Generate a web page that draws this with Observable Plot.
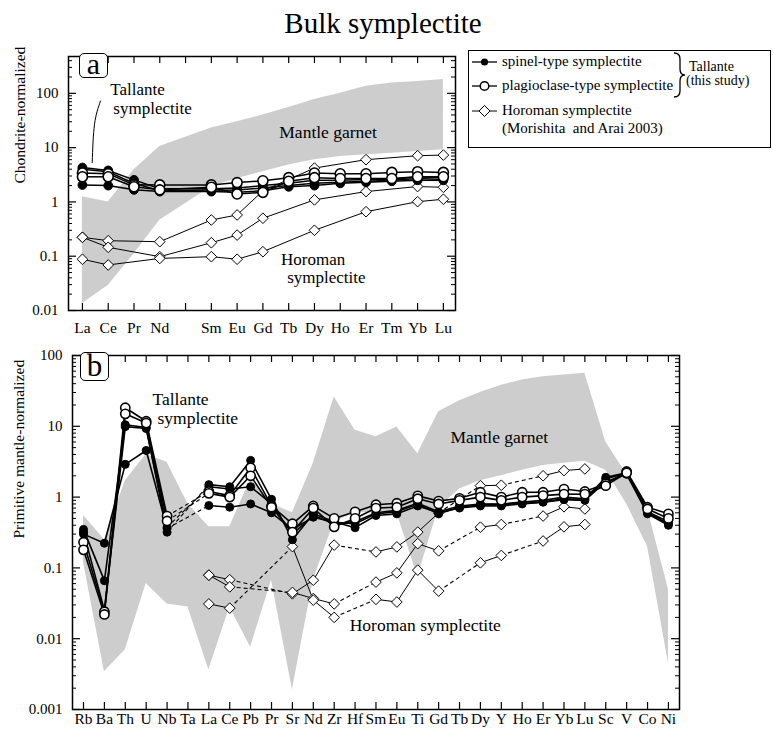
<!DOCTYPE html>
<html><head><meta charset="utf-8">
<script src="https://cdn.jsdelivr.net/npm/d3@7"></script>
<script src="https://cdn.jsdelivr.net/npm/@observablehq/plot@0.6"></script>
<style>
body{margin:0;background:#fff;}
#wrap{position:relative;width:773px;height:737px;overflow:hidden;font-family:"Liberation Serif","DejaVu Serif",serif;color:#000;background:#fff;}
.abs{position:absolute;}
.lbox{position:absolute;border:1.5px solid #000;border-radius:5px;box-sizing:border-box;text-align:center;background:#fff;}
.leg{position:absolute;font-size:15px;line-height:15px;white-space:nowrap;}
</style></head><body><div id="wrap"></div>
<script>
const FONT = '"Liberation Serif", "DejaVu Serif", serif';

// ---------- DATA ----------
const reeLabels = ["La","Ce","Pr","Nd","","Sm","Eu","Gd","Tb","Dy","Ho","Er","Tm","Yb","Lu"];
const reeTicks = [0.01, 0.1, 1, 10, 100];
// Tallante spinel-type (filled), chondrite-normalized
const reeSpinel1 = [4.3, 3.8, 2.55, 1.75, null, 1.75, 1.8, 2.0, 2.2, 2.5, 2.5, 2.6, 2.6, 2.9, 2.8];
const reeSpinel2 = [4.0, 3.6, 2.2, 1.6, null, 1.65, 1.65, 1.8, 2.0, 2.2, 2.3, 2.4, 2.5, 2.7, 2.6];
const reeSpinel3 = [2.05, 2.0, 1.67, 1.55, null, 1.55, 1.5, 1.6, 1.9, 2.0, 2.2, 2.3, 2.4, 2.5, 2.5];
// Tallante plagioclase-type (open)
const reePlag1 = [3.4, 3.3, 2.06, 2.06, null, 2.06, 2.27, 2.45, 2.8, 3.4, 3.3, 3.3, 3.5, 3.6, 3.5];
const reePlag2 = [2.9, 2.9, 1.9, 1.67, null, 1.86, 1.4, 1.5, 2.4, 2.8, 2.7, 2.7, 2.7, 2.9, 2.9];
// Horoman symplectite (diamonds)
const reeHoro1 = [0.223, 0.193, null, 0.185, null, 0.465, 0.575, 1.6, null, 4.2, null, 6.0, null, 7.1, 7.3];
const reeHoro2 = [0.223, 0.146, null, 0.098, null, 0.177, 0.245, 0.5, null, 1.09, null, 1.55, null, 1.92, 1.86];
const reeHoro3 = [0.088, 0.069, null, 0.091, null, 0.098, 0.088, 0.121, null, 0.30, null, 0.66, null, 1.01, 1.12];
// Mantle garnet field
const reeGarnetHigh = [1.25, 1.0, 3.9, 10.5, null, 23, 30, 40, 55, 77, 100, 135, 155, 165, 180];
const reeGarnetLow = [0.0135, 0.029, 0.11, 0.46, null, 1.9, 2.7, 3.6, 4.8, 6.0, 6.9, 7.4, 7.9, 8.5, 9.1];

const spiderLabels = ["Rb","Ba","Th","U","Nb","Ta","La","Ce","Pb","Pr","Sr","Nd","Zr","Hf","Sm","Eu","Ti","Gd","Tb","Dy","Y","Ho","Er","Yb","Lu","Sc","V","Co","Ni"];
const spiderTicks = [0.001, 0.01, 0.1, 1, 10, 100];
const pmSpinel1 = [0.35, 0.066, 10.5, 9.6, 0.32, null, 1.5, 1.4, 3.3, 0.93, 0.25, 0.58, 0.45, 0.37, 0.55, 0.58, 0.75, 0.6, 0.7, 0.75, 0.75, 0.8, 0.85, 0.95, 0.92, 1.9, 2.2, 0.6, 0.42];
const pmSpinel2 = [0.32, 0.025, 9.9, 9.3, 0.375, null, 1.4, 1.3, 1.4, 0.8, 0.3, 0.55, 0.42, 0.45, 0.6, 0.65, 0.82, 0.62, 0.75, 0.8, 0.8, 0.85, 0.9, 1.0, 0.95, 1.8, 2.2, 0.62, 0.45];
const pmSpinel3 = [0.3, 0.223, 2.9, 4.55, 0.36, null, 0.76, 0.72, 0.8, 0.6, 0.35, 0.52, 0.44, 0.42, 0.58, 0.62, 0.8, 0.58, 0.72, 0.78, 0.78, 0.82, 0.85, 0.92, 0.9, 1.65, 2.1, 0.58, 0.4];
const pmPlag1 = [0.23, 0.024, 18.3, 11.8, 0.54, null, 1.2, 1.05, 2.6, 0.75, 0.42, 0.75, 0.5, 0.62, 0.78, 0.82, 1.04, 0.88, 0.96, 1.17, 1.0, 1.17, 1.17, 1.3, 1.2, 1.54, 2.3, 0.72, 0.58];
const pmPlag2 = [0.18, 0.022, 15, 11.1, 0.46, null, 1.13, 1.0, 2.0, 0.72, 0.32, 0.7, 0.38, 0.5, 0.7, 0.72, 0.95, 0.8, 0.9, 1.0, 0.9, 1.0, 1.05, 1.1, 1.1, 1.45, 2.2, 0.68, 0.5];
const pmHoro1 = [null, null, null, null, null, null, 0.079, 0.068, null, null, 0.043, 0.067, 0.21, null, 0.168, 0.198, 0.32, 0.6, null, 1.45, 1.47, null, 2.0, 2.37, 2.5, null, null, null, null];
const pmHoro2 = [null, null, null, null, null, null, 0.079, 0.054, null, null, 0.045, 0.037, 0.031, null, 0.063, 0.085, 0.22, 0.174, null, 0.376, 0.41, null, 0.54, 0.73, 0.68, null, null, null, null];
const pmHoro3 = [null, null, null, null, null, null, 0.031, 0.027, null, null, 0.2, 0.035, 0.02, null, 0.036, 0.033, 0.093, 0.047, null, 0.118, 0.15, null, 0.24, 0.38, 0.41, null, null, null, null];
const pmGarnetHigh = [0.55, 0.25, 1.7, 4.0, 3.1, 0.8, 0.38, 0.38, 1.8, 0.8, 0.6, 3.0, 26, 8.8, 7.1, 9.8, 4.1, 16, 23, 30, 38, 45, 50, 53, 56, 6, 2.1, 0.68, 0.05];
const pmGarnetLow = [0.12, 0.0034, 0.007, 0.06, 0.031, 0.028, 0.0036, 0.028, 0.0076, 0.067, 0.0019, 0.067, 0.45, 0.6, 0.6, 0.6, 0.075, 0.7, 1.3, 1.7, 2.0, 2.4, 2.8, 3.0, 3.2, 2.4, 0.8, 0.2, 0.0045];

// ---------- HELPERS ----------
function pts(vals) { return vals.map((v, i) => ({x: i, y: v})).filter(d => d.y != null); }
function segs(vals, dashGaps) {
  const out = []; let prev = -1;
  vals.forEach((v, i) => {
    if (v == null) return;
    if (prev >= 0) out.push({x1: prev, y1: vals[prev], x2: i, y2: v, dashed: dashGaps && i - prev > 1});
    prev = i;
  });
  return out;
}
function band(lo, hi) { return lo.map((l, i) => ({x: i, lo: l, hi: hi[i]})).filter(d => d.lo != null && d.hi != null); }

function panel(o) {
  const [mt, mr, mb, ml] = o.margins;
  const fw = o.width - ml - mr, fh = o.height - mt - mb;
  const idx = o.labels.map((_, i) => i);
  const minors = o.yTicks.flatMap(m => [2,3,4,5,6,7,8,9].map(k => m * k)).filter(v => v < o.yDomain[1]);
  const hSegs = o.horo.flatMap(v => segs(v, o.dashGaps));
  const tSegs = [...o.spinel, ...o.plag].flatMap(v => segs(v, o.dashGaps));
  const L = {x1: "x1", y1: "y1", x2: "x2", y2: "y2", stroke: "#000"};
  return Plot.plot({
    width: o.width, height: o.height,
    marginTop: mt, marginRight: mr, marginBottom: mb, marginLeft: ml,
    style: {fontFamily: FONT, fontSize: "15px", background: "transparent", overflow: "visible"},
    x: {domain: o.xDomain},
    y: {type: "log", domain: o.yDomain},
    marks: [
      Plot.areaY(band(o.low, o.high), {x: "x", y1: "lo", y2: "hi", fill: "#cdcdcd"}),
      Plot.link(hSegs.filter(d => !d.dashed), {...L, strokeWidth: 1}),
      Plot.link(hSegs.filter(d => d.dashed), {...L, strokeWidth: 1.1, strokeDasharray: "4,3"}),
      Plot.link(tSegs.filter(d => !d.dashed), {...L, strokeWidth: o.talWidth}),
      Plot.link(tSegs.filter(d => d.dashed), {...L, strokeWidth: 1.1, strokeDasharray: "4,3"}),
      Plot.dot(o.horo.flatMap(pts), {x: "x", y: "y", symbol: "diamond2", r: 4.8, fill: "#fff", stroke: "#000", strokeWidth: 1}),
      Plot.dot(o.spinel.flatMap(pts), {x: "x", y: "y", r: o.r - 0.6, fill: "#000", stroke: "#000", strokeWidth: 1}),
      Plot.dot(o.plag.flatMap(pts), {x: "x", y: "y", r: o.r, fill: "#fff", stroke: "#000", strokeWidth: 1.6}),
      Plot.frame({stroke: "#000", strokeWidth: 1.5}),
      Plot.tickX(idx, {x: d => d, stroke: "#000", strokeWidth: 1.2, insetTop: fh - 7}),
      Plot.tickX(idx, {x: d => d, stroke: "#000", strokeWidth: 1.2, insetBottom: fh - 7}),
      Plot.tickY(o.yTicks, {y: d => d, stroke: "#000", strokeWidth: 1.2, insetRight: fw - 8}),
      Plot.tickY(o.yTicks, {y: d => d, stroke: "#000", strokeWidth: 1.2, insetLeft: fw - 8}),
      Plot.tickY(minors, {y: d => d, stroke: "#000", strokeWidth: 1, insetRight: fw - 4}),
      Plot.tickY(minors, {y: d => d, stroke: "#000", strokeWidth: 1, insetLeft: fw - 4}),
      Plot.axisX(idx, {anchor: "bottom", tickSize: 0, tickPadding: o.padX, tickFormat: i => o.labels[i], fontSize: o.fontX, fontFamily: FONT, label: null}),
      Plot.axisY(o.yTicks, {anchor: "left", tickSize: 0, tickPadding: o.padY, tickFormat: d => String(d), fontSize: o.fontY, fontFamily: FONT, label: null}),
      Plot.text([o.yLabel], {text: d => d, frameAnchor: "left", rotate: -90, dx: o.yLabelDx, dy: o.yLabelDy, fontSize: 15.5, fontFamily: FONT}),
      ...o.extra
    ]
  });
}

const wrap = document.getElementById("wrap");
function place(node, left, top) { node.style.position = "absolute"; node.style.left = left + "px"; node.style.top = top + "px"; wrap.appendChild(node); }

// ---------- PANEL A ----------
const A = panel({
  labels: reeLabels, yTicks: reeTicks, xDomain: [-0.54, 14.47], yDomain: [0.01, 477],
  width: 470, height: 305, margins: [16, 15, 35, 68],
  spinel: [reeSpinel1, reeSpinel2, reeSpinel3], plag: [reePlag1, reePlag2],
  horo: [reeHoro1, reeHoro2, reeHoro3], dashGaps: false,
  low: reeGarnetLow, high: reeGarnetHigh, talWidth: 1.5, r: 5,
  padX: 11, padY: 10, fontX: 15.5, fontY: 15,
  yLabel: "Chondrite-normalized", yLabelDx: -48, yLabelDy: 0,
  extra: [
    Plot.text([{x: 1.08, y: 118, t: "Tallante"}, {x: 1.2, y: 52, t: "symplectite"}], {x: "x", y: "y", text: "t", textAnchor: "start", fontSize: 17, fontFamily: FONT}),
    Plot.line([{x: 0.70, y: 72}, {x: 0.47, y: 27}, {x: 0.38, y: 5.3}], {x: "x", y: "y", curve: "natural", stroke: "#000", strokeWidth: 1}),
    Plot.text([{x: 9.53, y: 19.4, t: "Mantle garnet"}], {x: "x", y: "y", text: "t", fontSize: 17.5, fontFamily: FONT}),
    Plot.text([{x: 8.95, y: 0.088, t: "Horoman"}, {x: 9.46, y: 0.040, t: "symplectite"}], {x: "x", y: "y", text: "t", fontSize: 17, fontFamily: FONT})
  ]
});
place(A, 0, 40);

// ---------- PANEL B ----------
const B = panel({
  labels: spiderLabels, yTicks: spiderTicks, xDomain: [-0.527, 28.53], yDomain: [0.001, 100],
  width: 690, height: 397, margins: [15, 11, 28, 72],
  spinel: [pmSpinel1, pmSpinel2, pmSpinel3], plag: [pmPlag1, pmPlag2],
  horo: [pmHoro1, pmHoro2, pmHoro3], dashGaps: true,
  low: pmGarnetLow, high: pmGarnetHigh, talWidth: 1.6, r: 4.6,
  padX: 3, padY: 10, fontX: 15.5, fontY: 15,
  yLabel: "Primitive mantle-normalized", yLabelDx: -53, yLabelDy: 6,
  extra: [
    Plot.text([{x: 3.3, y: 24, t: "Tallante"}, {x: 3.54, y: 12.8, t: "symplectite"}], {x: "x", y: "y", text: "t", textAnchor: "start", fontSize: 17.5, fontFamily: FONT}),
    Plot.text([{x: 19.9, y: 6.9, t: "Mantle garnet"}], {x: "x", y: "y", text: "t", fontSize: 17.5, fontFamily: FONT}),
    Plot.text([{x: 16.36, y: 0.0153, t: "Horoman symplectite"}], {x: "x", y: "y", text: "t", fontSize: 17.5, fontFamily: FONT})
  ]
});
place(B, 0, 340);

// ---------- TITLE, PANEL LETTERS, LEGEND ----------
wrap.insertAdjacentHTML("beforeend", `
<div class="abs" style="left:233px;top:6px;width:300px;text-align:center;font-size:29px;line-height:34px;">Bulk symplectite</div>
<div class="lbox" style="left:79px;top:53px;width:29px;height:25px;font-size:30px;line-height:20px;">a</div>
<div class="lbox" style="left:80px;top:352px;width:29px;height:29px;font-size:31px;line-height:26px;">b</div>
<div class="abs" style="left:468px;top:50px;width:303px;height:98px;border:1px solid #000;box-sizing:border-box;"></div>
<svg class="abs" style="left:470px;top:50px;overflow:visible" width="300" height="98">
  <line x1="2" x2="27" y1="12" y2="12" stroke="#000" stroke-width="1.3"/>
  <circle cx="14.5" cy="12" r="3.6" fill="#000"/>
  <line x1="2" x2="27" y1="36" y2="36" stroke="#000" stroke-width="1.3"/>
  <circle cx="14.5" cy="36" r="4.3" fill="#fff" stroke="#000" stroke-width="1.5"/>
  <line x1="2" x2="27" y1="61" y2="61" stroke="#000" stroke-width="1"/>
  <path d="M14.5,55.5 L20,61 L14.5,66.5 L9,61 Z" fill="#fff" stroke="#000" stroke-width="1"/>
  <path d="M204,3 Q210,3 210,9 L210,19 Q210,25 215,25 Q210,25 210,31 L210,41 Q210,47 204,47" fill="none" stroke="#000" stroke-width="1.3"/>
</svg>
<div class="leg" style="left:502px;top:54px;">spinel-type symplectite</div>
<div class="leg" style="left:502px;top:78px;">plagioclase-type symplectite</div>
<div class="leg" style="left:502px;top:103px;">Horoman symplectite</div>
<div class="leg" style="left:502px;top:121px;">(Morishita&nbsp; and Arai 2003)</div>
<div class="leg" style="left:689px;top:60px;font-size:14px;line-height:14px;">Tallante</div>
<div class="leg" style="left:686px;top:74px;font-size:14px;line-height:14px;">(this study)</div>
`);
</script>
</body></html>
